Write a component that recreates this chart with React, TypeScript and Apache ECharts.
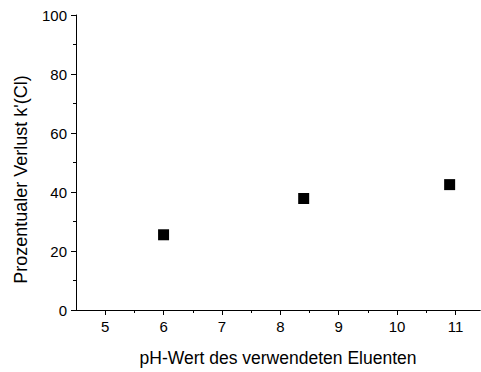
import React, { useEffect, useRef } from "react";
import * as echarts from "echarts";

const phValues = [6.0, 8.4, 10.9];
const lossValues = [25.5, 37.8, 42.5];
const xMajorTicks = [5, 6, 7, 8, 9, 10, 11];
const xMinorTicks = [5.5, 6.5, 7.5, 8.5, 9.5, 10.5];

export default function App() {
  const ref = useRef<HTMLDivElement>(null);
  useEffect(() => {
    if (!ref.current) return;
    const chart = echarts.init(ref.current, null, { renderer: "svg" });
    const font = "'Liberation Sans', Arial, sans-serif";
    const axisBase = {
      type: "value" as const,
      min: 4.5,
      max: 11.42,
      splitLine: { show: false },
      axisLine: { show: true, onZero: false, lineStyle: { color: "#000", width: 1 } },
    };
    chart.setOption({
      animation: false,
      backgroundColor: "#fff",
      grid: { left: 76, top: 15, right: 1, bottom: 62, containLabel: false },
      xAxis: [
        {
          ...axisBase,
          name: "pH-Wert des verwendeten Eluenten",
          nameLocation: "middle",
          nameGap: 39,
          nameTextStyle: { fontFamily: font, fontSize: 17.5, color: "#000" },
          axisTick: { show: true, length: 5, inside: false, customValues: xMajorTicks, lineStyle: { color: "#000" } },
          axisLabel: { show: true, margin: 9, customValues: xMajorTicks, fontFamily: font, fontSize: 15, color: "#000" },
        },
        {
          ...axisBase,
          position: "bottom",
          axisTick: { show: true, length: 3, inside: false, customValues: xMinorTicks, lineStyle: { color: "#000" } },
          axisLabel: { show: false },
        },
      ],
      yAxis: {
        type: "value",
        min: 0,
        max: 100,
        interval: 20,
        name: "Prozentualer Verlust k'(Cl)",
        nameLocation: "middle",
        nameGap: 46,
        nameTextStyle: { fontFamily: font, fontSize: 18, color: "#000", padding: [0, 34, 0, 0] },
        splitLine: { show: false },
        axisLine: { show: true, onZero: false, lineStyle: { color: "#000", width: 1 } },
        axisTick: { show: true, length: 5, lineStyle: { color: "#000" } },
        minorTick: { show: true, splitNumber: 2, length: 3, lineStyle: { color: "#000" } },
        axisLabel: { margin: 9, fontFamily: font, fontSize: 15, color: "#000" },
      },
      series: [
        {
          type: "scatter",
          xAxisIndex: 0,
          symbol: "rect",
          symbolSize: 11,
          itemStyle: { color: "#000", opacity: 1 },
          data: phValues.map((x, i) => [x, lossValues[i]]),
        },
      ],
    });
    return () => chart.dispose();
  }, []);
  return (
    <div
      ref={ref}
      style={{ position: "fixed", left: 0, top: 0, width: 481, height: 372, background: "#fff" }}
    />
  );
}
